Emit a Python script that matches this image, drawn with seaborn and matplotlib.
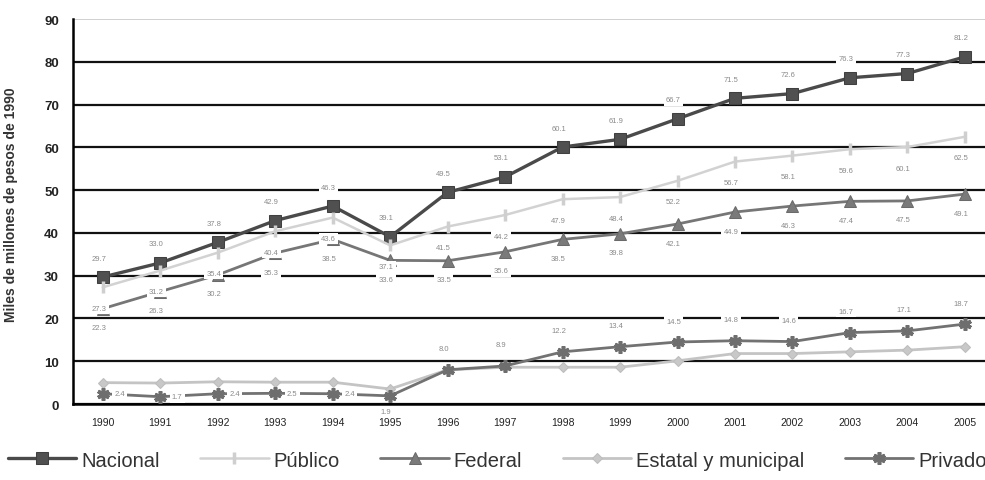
import matplotlib
matplotlib.use("Agg")
import matplotlib.pyplot as plt
import seaborn as sns
import pandas as pd
import numpy as np

years = list(range(1990, 2006))
nacional = [29.7, 33.0, 37.8, 42.9, 46.3, 39.1, 49.5, 53.1, 60.1, 61.9, 66.7, 71.5, 72.6, 76.3, 77.3, 81.2]
publico = [27.3, 31.2, 35.4, 40.4, 43.6, 37.1, 41.5, 44.2, 47.9, 48.4, 52.2, 56.7, 58.1, 59.6, 60.1, 62.5]
federal = [22.3, 26.3, 30.2, 35.3, 38.5, 33.6, 33.5, 35.6, 38.5, 39.8, 42.1, 44.9, 46.3, 47.4, 47.5, 49.1]
estatal = [5.0, 4.9, 5.2, 5.1, 5.1, 3.5, 8.0, 8.6, 8.6, 8.6, 10.1, 11.8, 11.8, 12.2, 12.6, 13.4]
privado = [2.4, 1.7, 2.4, 2.5, 2.4, 1.9, 8.0, 8.9, 12.2, 13.4, 14.5, 14.8, 14.6, 16.7, 17.1, 18.7]

series_names = ["Nacional", "Público", "Federal", "Estatal y municipal", "Privado"]
series_values = [nacional, publico, federal, estatal, privado]

rows = []
for name, vals in zip(series_names, series_values):
    for i, v in enumerate(vals):
        rows.append({"idx": i, "year": years[i], "valor": v, "serie": name})
df = pd.DataFrame(rows)

sns.set_theme(style="white")
plt.rcParams["font.family"] = ["Liberation Sans", "DejaVu Sans"]

fig = plt.figure(figsize=(9.85, 4.81), dpi=100)
ax = fig.add_axes([0.074, 0.158, 0.926, 0.800])

styles = {
    "Nacional": dict(color="#4a4a4a", lw=2.4, marker="s", ms=8, mfc="#505050", mec="#404040"),
    "Público": dict(color="#d2d2d2", lw=1.8, marker="|", ms=9, mew=2.5, mec="#cfcfcf"),
    "Federal": dict(color="#767676", lw=2.0, marker="^", ms=8, mfc="#7a7a7a", mec="#6a6a6a"),
    "Estatal y municipal": dict(color="#c4c4c4", lw=2.0, marker="D", ms=5.5, mfc="#c8c8c8", mec="#bdbdbd"),
    "Privado": dict(color="#727272", lw=2.0, marker=(6, 2, 0), ms=9, mew=2.6, mec="#6e6e6e"),
}

for name in series_names:
    sub = df[df["serie"] == name]
    sns.lineplot(data=sub, x="idx", y="valor", ax=ax, label=name, zorder=4, **styles[name])

# value labels
lab_kw = dict(textcoords="offset pixels", ha="center", va="center", fontsize=5.5, color="#8a8a8a",
              zorder=6, bbox=dict(boxstyle="square,pad=0.3", fc="white", ec="none"))
for i, v in enumerate(nacional):
    ax.annotate(f"{v:.1f}", (i, v), xytext=(-4, 19), **lab_kw)
for i, v in enumerate(publico):
    ax.annotate(f"{v:.1f}", (i, v), xytext=(-4, -21), **lab_kw)
for i, v in enumerate(federal):
    ax.annotate(f"{v:.1f}", (i, v), xytext=(-4, -19), **lab_kw)
for i, v in enumerate(privado):
    if i < 5:
        ax.annotate(f"{v:.1f}", (i, v), xytext=(17, 0), **lab_kw)
    elif i == 5:
        ax.annotate(f"{v:.1f}", (i, v), xytext=(-4, -16), **lab_kw)
    else:
        ax.annotate(f"{v:.1f}", (i, v), xytext=(-4, 21), **lab_kw)

ax.set_xlim(-0.52, 15.35)
ax.set_ylim(0, 90)
ax.set_yticks(range(0, 91, 10))
ax.set_yticklabels([str(t) for t in range(0, 91, 10)], fontsize=9.5, fontweight="bold", color="#222")
ax.set_xticks(range(16))
ax.set_xticklabels([str(y) for y in years], fontsize=7.5, color="#222")
ax.set_xticks(np.arange(0.5, 15.5, 1.0), minor=True)
ax.tick_params(axis="x", which="major", length=0, pad=9)
ax.tick_params(axis="x", which="minor", length=4, width=1.5, color="black", direction="out")
ax.tick_params(axis="y", length=4, width=1.5, color="black", direction="out", pad=6)

ax.grid(axis="y", color="#111111", lw=1.6, zorder=1)
ax.grid(axis="x", visible=False)
ax.set_axisbelow(True)
ylines = ax.get_ygridlines()
ylines[-1].set_color("#d0d0d0")
ylines[-1].set_linewidth(1.4)

for side in ["top", "right"]:
    ax.spines[side].set_visible(False)
for side in ["left", "bottom"]:
    ax.spines[side].set_color("black")
    ax.spines[side].set_linewidth(1.8)

ax.set_xlabel("")
ax.set_ylabel("Miles de millones de pesos de 1990", fontsize=10, fontweight="bold", color="#333", labelpad=10)
ax.yaxis.set_label_coords(-0.06, 0.52)

leg = ax.legend(loc="upper left", bbox_to_anchor=(-0.08, -0.1), ncol=5, frameon=False,
                handlelength=3.4, columnspacing=2.0, handletextpad=0.25, borderaxespad=0,
                prop=dict(size=14.5))
for t in leg.get_texts():
    t.set_color("#333")

fig.savefig("out.png", dpi=100)
